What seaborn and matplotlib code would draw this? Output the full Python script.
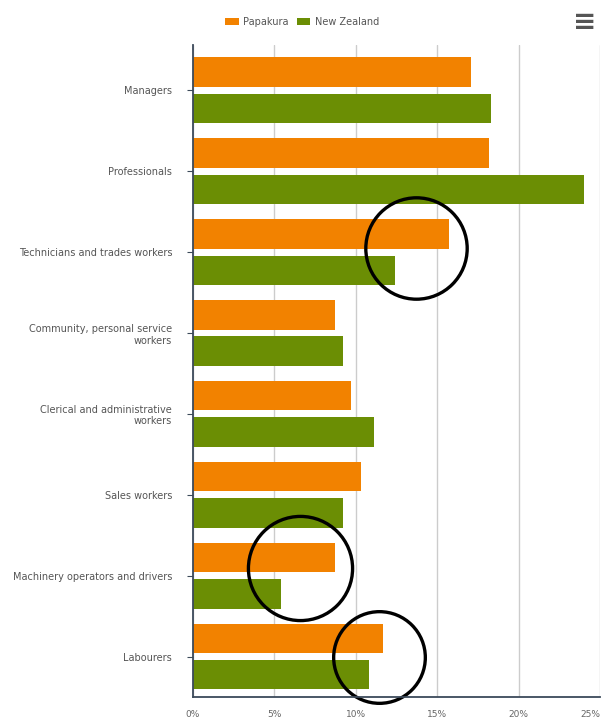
"""Occupation share bar chart: Papakura vs New Zealand."""

import matplotlib.pyplot as plt
import pandas as pd
import seaborn as sns
from matplotlib.patches import Patch
from matplotlib.ticker import FuncFormatter

occupations = [
    "Managers",
    "Professionals",
    "Technicians and trades workers",
    "Community, personal service\nworkers",
    "Clerical and administrative\nworkers",
    "Sales workers",
    "Machinery operators and drivers",
    "Labourers",
]
papakura = [17.1, 18.2, 15.7, 8.7, 9.7, 10.3, 8.7, 11.7]
new_zealand = [18.3, 24.0, 12.4, 9.2, 11.1, 9.2, 5.4, 10.8]
series_names = ["Papakura", "New Zealand"]
colors = ["#F28200", "#6B8E04"]

# hand-drawn highlight circles (category index, x centre in %, diameter pt)
circle_cat = [2, 6, 7]
circle_x = [13.7, 6.6, 11.4]
circle_size = [73, 75, 66]
circle_dy = [-0.05, -0.1, 0.0]

df = pd.DataFrame({
    "occupation": occupations * 2,
    "share": papakura + new_zealand,
    "area": [series_names[0]] * len(occupations) + [series_names[1]] * len(occupations),
})

sns.set_style("white")
plt.rcParams["font.family"] = ["DejaVu Sans"]

fig = plt.figure(figsize=(6.02, 7.2), dpi=100)
ax = fig.add_axes([193 / 602, 1 - 697 / 720, 407 / 602, 652 / 720])

sns.barplot(
    data=df, x="share", y="occupation", hue="area", orient="h",
    palette=colors, width=0.9, gap=0.19, ax=ax, legend=False,
    saturation=1, edgecolor="none",
)

for cat, cx, size, dy in zip(circle_cat, circle_x, circle_size, circle_dy):
    ax.plot([cx], [cat + dy], marker="o", markersize=size, markerfacecolor="none",
            markeredgecolor="black", markeredgewidth=2.4, clip_on=False)

ax.set_xlim(0, 25)
ax.set_ylim(len(occupations) - 0.5, -0.56)
ax.set_xticks([0, 5, 10, 15, 20, 25])
ax.xaxis.set_major_formatter(FuncFormatter(lambda v, _: f"{v:.0f}%"))
ax.grid(axis="x", color="#cccccc", linewidth=1)
ax.set_axisbelow(True)
ax.set_xlabel("")
ax.set_ylabel("")
for side in ["top", "right"]:
    ax.spines[side].set_visible(False)
ax.spines["left"].set_color("#3c4a5a")
ax.spines["bottom"].set_color("#3c4a5a")
ax.spines["left"].set_linewidth(1.3)
ax.spines["bottom"].set_linewidth(1.3)
ax.tick_params(axis="y", left=True, length=4, color="#3c4a5a", labelsize=7,
               labelcolor="#555555", pad=11)
ax.tick_params(axis="x", bottom=False, labelsize=6.5, labelcolor="#666666", pad=6)
ax.get_xticklabels()[-1].set_horizontalalignment("right")

handles = [Patch(facecolor=c, edgecolor="none") for c in colors]
fig.legend(handles, series_names, loc="center", bbox_to_anchor=(0.502, 1 - 22 / 720),
           ncol=2, frameon=False, fontsize=7, handlelength=1.4, handleheight=0.8,
           columnspacing=0.8, handletextpad=0.5, labelcolor="#555555")
fig.text(585 / 602, 1 - 22 / 720, "\u2261", ha="center", va="center",
         fontsize=20, color="#555555", fontweight="bold")

fig.savefig("out.png", dpi=100)
